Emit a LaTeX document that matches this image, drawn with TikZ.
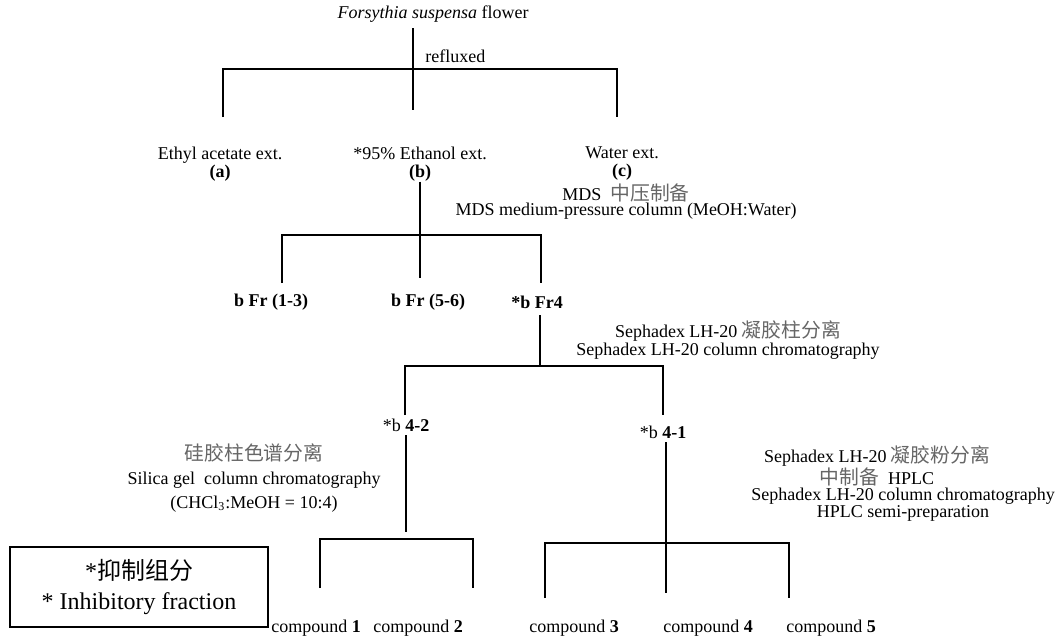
\documentclass[tikz,border=0pt]{standalone}
\usepackage{fontspec}
\setmainfont{Liberation Serif}
\newfontfamily\cjk{Noto Sans CJK SC}
\newfontfamily\cjkgray[Scale=1.1]{Noto Sans CJK SC}
\newcommand{\zh}[1]{{\cjkgray\color{black!60}#1}}

\begin{document}
\begin{tikzpicture}[x=0.5pt,y=-0.5pt,
  lbl/.style={inner sep=0pt,align=center,font=\fontsize{9}{#1}\selectfont},
  lbl/.default=8,
  tree/.style={line width=1pt},
  leaf/.style={line width=0.65pt}]
  \useasboundingbox (0,0) rectangle (1058,643);

  \node[lbl] (flower) at (433,14) {\textit{Forsythia suspensa} flower};
  \node[lbl,anchor=west] (reflux) at (425,56) {refluxed};
  \coordinate (j1) at (413,69);
  \draw[tree] (j1) ++(0,-41) -- ++(0,82);
  \draw[tree] (j1) ++(-190,48) -- ++(0,-48) -- ++(394,0) -- ++(0,48);

  \node[lbl=9] (ethyl) at (220,164) {Ethyl acetate ext.\\\textbf{(a)}};
  \node[lbl=9] (ethanol) at (420,164) {*95\% Ethanol ext.\\\textbf{(b)}};
  \node[lbl=9] (water) at (622,164) {Water ext.\\\textbf{(c)}};
  \node[lbl=7.5] (mds) at (626,202) {MDS\ \ \zh{中压制备}\\MDS medium-pressure column (MeOH:Water)};

  \coordinate (j2) at (420,235);
  \draw[tree] (ethanol.south) -- (j2) -- ++(0,43);
  \draw[tree] (j2) ++(-138,48) -- ++(0,-48) -- ++(259,0) -- ++(0,48);

  \node[lbl] (fr13) at (271,302) {\textbf{b Fr (1-3)}};
  \node[lbl] (fr56) at (428,302) {\textbf{b Fr (5-6)}};
  \node[lbl] (fr4) at (537,302) {\textbf{*b Fr4}};
  \node[lbl=9] (seph1) at (728,340) {Sephadex LH-20 \zh{凝胶柱分离}\\Sephadex LH-20 column chromatography};

  \coordinate (j3) at (540,366);
  \draw[tree] (j3) ++(0,-51) -- (j3);
  \draw[tree] (j3) ++(-135,49) -- ++(0,-49) -- ++(258,0) -- ++(0,49);

  \node[lbl] (f42) at (406,425) {*b \textbf{4-2}};
  \node[lbl] (f41) at (663,432) {*b \textbf{4-1}};
  \node[lbl=12] (silica) at (254,478) {\zh{硅胶柱色谱分离}\\Silica gel\ \ column chromatography\\(CHCl\textsubscript{3}:MeOH = 10:4)};
  \node[lbl=8.5] (seph2) at (877,466) {Sephadex LH-20 \zh{凝胶粉分离}\\\zh{中制备}\ \ HPLC};
  \node[lbl=8.5] (hplc) at (903,505) {Sephadex LH-20 column chromatography\\HPLC semi-preparation};

  \coordinate (j4) at (406,539);
  \draw[leaf] (j4) ++(0,-104) -- ++(0,97);
  \draw[leaf] (j4) ++(-86,49) -- ++(0,-49) -- ++(153,0) -- ++(0,49);
  \coordinate (j5) at (666,543);
  \draw[leaf] (j5) ++(0,-101) -- ++(0,151);
  \draw[leaf] (j5) ++(-121,55) -- ++(0,-55) -- ++(244,0) -- ++(0,55);

  \foreach \n/\x in {1/316,2/418,3/574,4/708,5/831}
    \node[lbl] (cmp\n) at (\x,628) {compound~\textbf{\n}};

  \node[draw,line width=0.8pt,minimum width=129pt,minimum height=40pt,align=center,
    font=\fontsize{12}{15}\selectfont] (legend) at (139,587) {*{\cjk 抑制组分}\\* Inhibitory fraction};
\end{tikzpicture}
\end{document}
